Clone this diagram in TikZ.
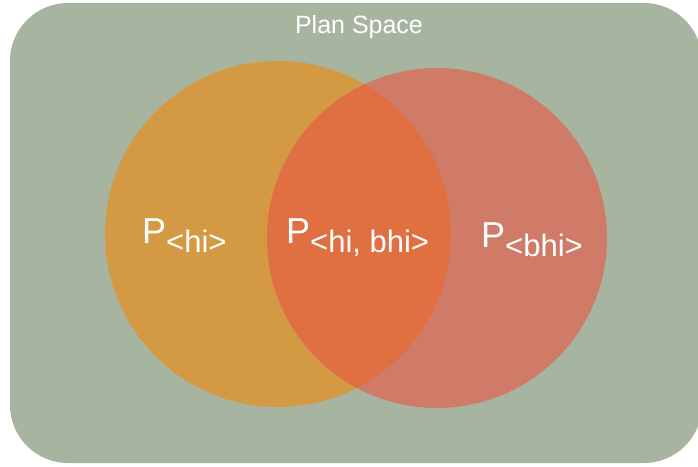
\documentclass[tikz,border=0pt]{standalone}
\usepackage{fontspec}
\setmainfont{Liberation Sans}
\definecolor{spacegreen}{HTML}{A7B5A0}
\definecolor{hiorange}{HTML}{D39A43}
\definecolor{bhired}{HTML}{CF7B68}
\definecolor{bothred}{HTML}{E07042}
\tikzset{
  setlabel/.style={text=white, inner sep=0pt, anchor=base west, font=\fontsize{36}{40}\selectfont},
}
\newcommand{\setsub}[1]{\raisebox{-9pt}{\fontsize{31}{34}\selectfont#1}}
\begin{document}
\begin{tikzpicture}[x=1pt,y=-1pt]
\useasboundingbox (0,0) rectangle (698,466);
% the plan space
\fill[spacegreen, rounded corners=58pt] (10,3) rectangle (702,463);
\node[text=white, anchor=base, inner sep=0pt, font=\fontsize{25}{28}\selectfont] (title) at (359,33) {Plan Space};
% the two plan sets
\fill[hiorange] (278,234) circle[radius=173];
\fill[bhired] (437,238) circle[radius=170];
\begin{scope}
  \clip (278,234) circle[radius=173];
  \fill[bothred] (437,238) circle[radius=170];
\end{scope}
% set labels
\node[setlabel] (phi) at (142,243) {P\setsub{<hi>}};
\node[setlabel] (pboth) at (286,243) {P\setsub{<hi, bhi>}};
\node[setlabel] (pbhi) at (481,247) {P\setsub{<bhi>}};
\end{tikzpicture}
\end{document}
